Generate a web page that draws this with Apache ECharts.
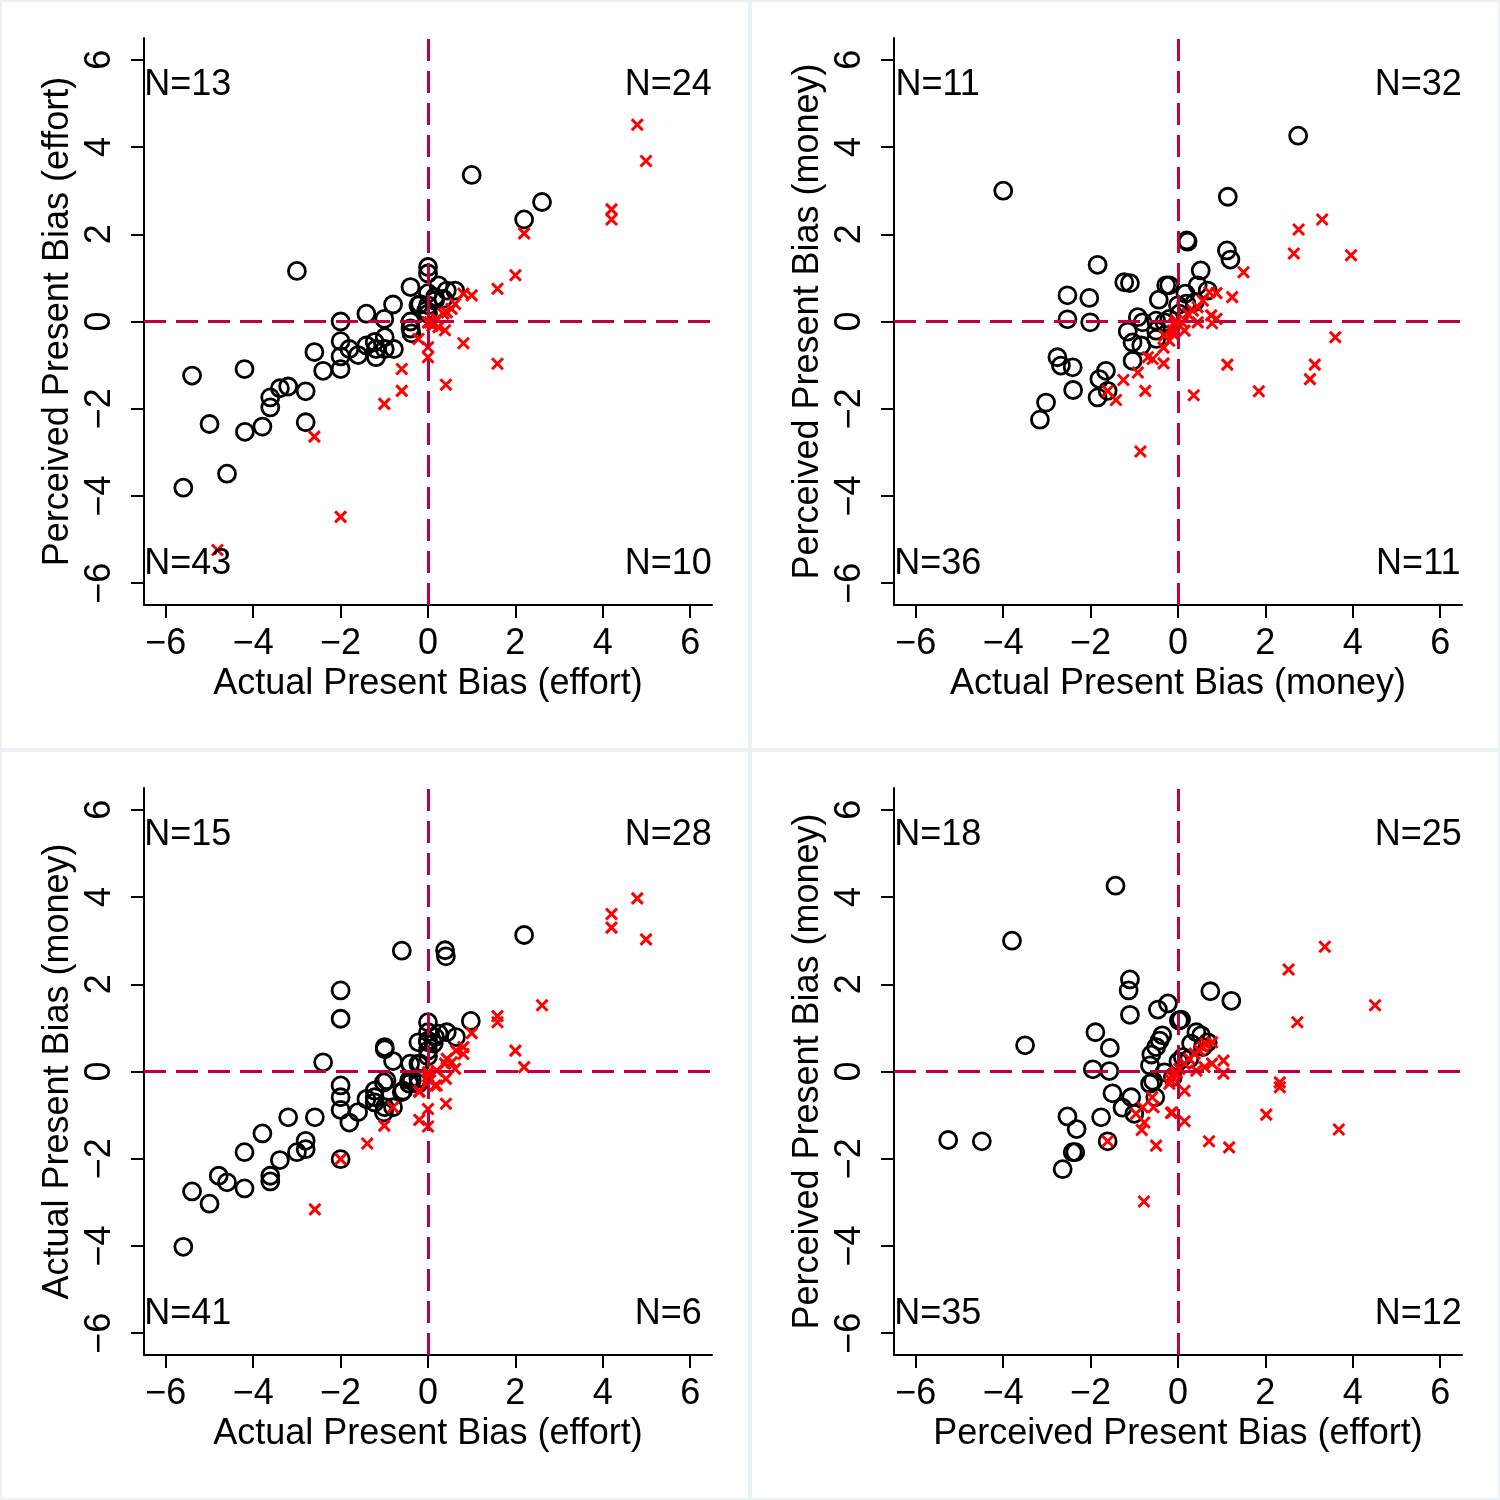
<!DOCTYPE html>
<html>
<head>
<meta charset="utf-8">
<script src="https://cdn.jsdelivr.net/npm/echarts@6/dist/echarts.min.js"></script>
<style>
  html, body { margin: 0; padding: 0; background: #eaf1f4; }
  #main { width: 1500px; height: 1500px; }
</style>
</head>
<body>
<div id="main"></div>
<script>
// tick values shared by every axis
var tickValues = [-6, -4, -2, 0, 2, 4, 6];

// panel 1: actual vs perceived (effort)
var p1Black = [[-3.0,1.16],[-5.4,-1.24],[-4.2,-1.09],[-5.0,-2.35],[-4.19,-2.53],[-3.79,-2.41],[-4.6,-3.49],[-5.6,-3.81],[-3.61,-1.74],[-3.61,-1.97],[-3.39,-1.53],[-3.2,-1.49],[-2.8,-1.6],[-2.8,-2.31],[-2.6,-0.7],[-2.4,-1.13],[-2.0,0.0],[-2.0,-0.45],[-2.0,-0.8],[-2.0,-1.09],[-1.8,-0.63],[-1.6,-0.77],[-1.41,0.18],[-1.41,-0.55],[-1.22,-0.47],[-1.19,-0.63],[-1.19,-0.82],[-0.99,-0.36],[-0.99,-0.63],[-0.78,-0.63],[-1.0,0.06],[-0.8,0.39],[-0.4,0.79],[-0.4,0.0],[-0.4,-0.16],[-0.38,-0.27],[-0.22,0.37],[0,1.25],[0,1.1],[0,0.65],[0,0.37],[0,0.18],[0.16,0.56],[1.0,3.36],[2.61,2.74],[2.2,2.34],[0.24,0.83],[0.43,0.71],[0.62,0.71],[-0.18,0.4],[0.16,0.48],[0.35,0.52],[-0.04,0.25]];
var p1Red = [[-4.82,-5.24],[-2.6,-2.64],[-2.0,-4.48],[-1.0,-1.89],[-0.6,-1.09],[-0.6,-1.59],[-0.22,-0.4],[0,-0.59],[0,-0.82],[0,-0.02],[0.1,-0.1],[4.79,4.51],[4.99,3.68],[4.2,2.57],[4.2,2.34],[2.2,2.02],[2.0,1.06],[1.59,0.75],[1.0,0.6],[0.81,0.64],[0.62,0.4],[0.54,0.29],[0.43,0.21],[0.35,0.18],[0.2,0.06],[0.05,-0.02],[0.24,-0.13],[0.39,-0.2],[0.81,-0.5],[1.59,-0.97],[0.41,-1.45],[0.12,-0.05]];
var p1N = [[-5.5,5.5,'N=13'],[5.5,5.5,'N=24'],[-5.5,-5.5,'N=43'],[5.5,-5.5,'N=10']];

// panel 2: actual vs perceived (money)
var p2Black = [[-4.0,3.0],[-1.84,1.3],[-1.23,0.9],[-1.1,0.88],[-2.53,0.6],[-2.03,0.54],[-2.53,0.05],[-2.01,-0.02],[-0.27,0.83],[-0.44,0.5],[0,0.37],[-0.92,0.1],[-0.81,-0.02],[-1.15,-0.23],[-1.04,-0.48],[-0.84,-0.55],[-1.04,-0.9],[-0.5,0.02],[-0.31,-0.02],[-0.5,-0.21],[-0.5,-0.4],[-0.2,0.06],[-2.76,-0.82],[-2.68,-1.01],[-2.41,-1.05],[-2.4,-1.57],[-1.65,-1.13],[-1.8,-1.32],[-1.84,-1.74],[-1.61,-1.59],[-3.02,-1.86],[-3.16,-2.25],[2.75,4.26],[1.14,2.86],[0.2,1.86],[0.22,1.83],[1.12,1.63],[1.2,1.42],[0.52,1.17],[-0.2,0.83],[0.45,0.83],[0.68,0.71],[0.17,0.64],[0.19,0.41],[0.38,0.44],[0.03,0.18]];
var p2Red = [[-0.86,-2.98],[-0.75,-1.59],[-1.25,-1.34],[-1.42,-1.8],[-1.61,-1.59],[-0.92,-1.17],[-0.69,-0.82],[-0.58,-0.86],[-0.33,-0.96],[-0.33,-0.6],[-0.31,-0.32],[-0.2,-0.44],[-0.12,-0.21],[-0.08,-0.05],[3.3,2.34],[2.76,2.11],[2.65,1.56],[3.96,1.52],[1.5,1.13],[1.24,0.56],[0.72,0.67],[0.88,0.65],[0.57,0.48],[0.45,0.33],[0.34,0.25],[0.22,0.18],[0.76,0.14],[0.88,0.06],[0.78,-0.04],[0.45,-0.02],[0.11,-0.04],[-0.04,0.02],[0.15,-0.21],[-0.12,-0.28],[3.6,-0.36],[3.13,-0.99],[3.02,-1.32],[1.13,-0.99],[1.85,-1.6],[0.36,-1.69]];
var p2N = [[-5.5,5.5,'N=11'],[5.5,5.5,'N=32'],[-5.5,-5.5,'N=36'],[5.5,-5.5,'N=11']];

// panel 3: actual effort vs actual money
var p3Black = [[-0.6,2.77],[-2.0,1.86],[-2.0,1.21],[-2.4,0.21],[-0.99,0.51],[-0.8,0.24],[-0.41,0.18],[-0.22,0.18],[-0.22,0.67],[0,1.13],[0,0.9],[0,0.67],[0,0.48],[0.16,0.79],[-2.0,-0.32],[-2.0,-0.59],[-2.0,-0.88],[-1.8,-1.17],[-1.6,-0.93],[-1.41,-0.63],[-1.22,-0.44],[-1.22,-0.59],[-1.22,-0.71],[-1.01,-0.25],[-1.01,-0.94],[-0.8,-0.82],[-0.6,-0.47],[-0.43,-0.28],[-0.43,-0.2],[-0.22,-0.16],[-0.22,-0.28],[-3.2,-1.05],[-2.59,-1.05],[-3.79,-1.42],[-4.2,-1.85],[-2.8,-1.59],[-2.8,-1.78],[-3.0,-1.85],[-3.39,-2.03],[-3.61,-2.39],[-3.61,-2.52],[-4.79,-2.39],[-4.6,-2.54],[-4.2,-2.68],[-5.4,-2.75],[-5.0,-3.03],[-5.6,-4.02],[-2.0,-2.01],[0.39,2.78],[0.41,2.64],[2.2,3.13],[0.98,1.16],[0.24,0.87],[0.43,0.9],[0.64,0.79],[0,0.71],[0.13,0.64],[-0.99,0.56],[-0.18,0.18],[0,0.35],[-0.37,-0.2],[-0.57,-0.44],[-0.95,-0.2],[-0.99,-0.82]];
var p3Red = [[-2.0,-2.01],[-2.59,-3.16],[-1.39,-1.65],[-1.0,-1.24],[-0.8,-0.82],[-0.2,-0.45],[-0.2,-1.11],[0,-0.86],[0,-1.26],[0,-0.11],[0,-0.18],[0.16,-0.32],[4.79,3.97],[4.2,3.61],[4.2,3.3],[4.99,3.03],[2.61,1.52],[1.59,1.27],[1.59,1.13],[2.0,0.48],[2.2,0.1],[1.0,0.88],[0.81,0.56],[0.81,0.4],[0.64,0.48],[0.62,0.06],[0.54,0.21],[0.43,0.29],[0.39,0.18],[0.2,0.02],[0,-0.02],[0.05,-0.2],[0.2,-0.32],[0.41,-0.17],[0.41,-0.74],[-0.2,-0.47]];
var p3N = [[-5.5,5.5,'N=15'],[5.5,5.5,'N=28'],[-5.5,-5.5,'N=41'],[5.5,-5.5,'N=6']];

// panel 4: perceived effort vs perceived money
var p4Black = [[-1.43,4.26],[-3.8,3.0],[-1.1,2.11],[-1.13,1.86],[-1.1,1.3],[-3.5,0.6],[-0.23,1.56],[-0.46,1.42],[0.02,1.17],[-0.36,0.83],[-0.42,0.71],[-0.5,0.56],[-0.61,0.39],[-1.89,0.9],[-1.56,0.54],[-1.95,0.05],[-1.57,0.01],[-0.64,0.14],[-0.64,-0.28],[-0.57,-0.22],[-0.31,-0.02],[-1.5,-0.5],[-1.07,-0.59],[-1.27,-0.83],[-1.0,-0.97],[-0.52,-0.59],[-1.76,-1.05],[-2.53,-1.03],[-2.32,-1.32],[-2.41,-1.85],[-2.35,-1.85],[-2.64,-2.24],[-1.61,-1.6],[-5.26,-1.57],[-4.49,-1.6],[0.74,1.84],[1.22,1.62],[0.07,1.19],[0.42,0.9],[0.53,0.83],[0.3,0.64],[0.11,0.33],[0.01,0.23],[-0.12,-0.13],[0.26,0.29],[0.57,0.56],[0.68,0.67]];
var p4Red = [[-0.78,-2.98],[-0.5,-1.7],[-0.16,-0.95],[-0.83,-1.34],[-0.77,-1.17],[-0.96,-0.97],[-0.81,-0.82],[-0.56,-0.82],[-0.59,-0.59],[-0.2,-0.28],[-0.12,-0.13],[-0.04,-0.02],[-1.61,-1.6],[3.36,2.86],[2.53,2.34],[4.51,1.52],[2.73,1.13],[1.04,0.25],[1.04,-0.05],[0.78,0.67],[0.63,0.64],[0.57,0.56],[0.49,0.48],[0.38,0.41],[0.26,0.29],[0.15,0.18],[0.03,0.06],[-0.08,-0.05],[-0.16,-0.2],[0.42,0.02],[0.61,0.1],[0.78,0.18],[0.15,-0.44],[0.15,-1.14],[-0.13,-0.94],[0.71,-1.6],[1.17,-1.74],[2.33,-0.25],[2.33,-0.36],[2.02,-0.99],[3.68,-1.33]];
var p4N = [[-5.5,5.5,'N=18'],[5.5,5.5,'N=25'],[-5.5,-5.5,'N=35'],[5.5,-5.5,'N=12']];

var panels = [
  { left: 144, top: 38, xName: 'Actual Present Bias (effort)', yName: 'Perceived Present Bias (effort)', black: p1Black, red: p1Red, n: p1N },
  { left: 894, top: 38, xName: 'Actual Present Bias (money)', yName: 'Perceived Present Bias (money)', black: p2Black, red: p2Red, n: p2N },
  { left: 144, top: 788, xName: 'Actual Present Bias (effort)', yName: 'Actual Present Bias (money)', black: p3Black, red: p3Red, n: p3N },
  { left: 894, top: 788, xName: 'Perceived Present Bias (effort)', yName: 'Perceived Present Bias (money)', black: p4Black, red: p4Red, n: p4N }
];

var font = 'Liberation Sans, Arial, Helvetica, sans-serif';
var refColor = '#c4003c';

function fmt(v) {
  return v < 0 ? '\u2212' + Math.abs(v) : String(v);
}

function axisBase(i, name) {
  return {
    gridIndex: i,
    type: 'value',
    min: -6.5,
    max: 6.5,
    name: name,
    nameLocation: 'middle',
    nameTextStyle: { fontSize: 36, color: '#000', fontFamily: font },
    axisLine: { show: true, onZero: false, lineStyle: { color: '#000', width: 2 } },
    axisTick: { show: true, customValues: tickValues, length: 13, lineStyle: { color: '#000', width: 2 } },
    axisLabel: { customValues: tickValues, formatter: fmt, fontSize: 36, color: '#000', fontFamily: font },
    splitLine: { show: false }
  };
}

var grids = [], xAxes = [], yAxes = [], series = [], rects = [];

panels.forEach(function (p, i) {
  grids.push({ left: p.left, top: p.top, width: 568, height: 567 });

  var xa = axisBase(i, p.xName);
  xa.nameGap = 61;
  xa.axisLabel.margin = 21;
  xAxes.push(xa);

  var ya = axisBase(i, p.yName);
  ya.nameGap = 68;
  ya.axisLabel.margin = 26;
  ya.axisLabel.rotate = 90;
  yAxes.push(ya);

  // dashed reference lines at zero
  series.push({
    type: 'scatter', xAxisIndex: i, yAxisIndex: i, data: [], z: 1,
    markLine: {
      silent: true, symbol: ['none', 'none'], label: { show: false },
      lineStyle: { color: refColor, width: 3, type: [22, 10], opacity: 1 },
      data: [{ xAxis: 0 }, { yAxis: 0 }]
    }
  });
  series.push({
    type: 'scatter', xAxisIndex: i, yAxisIndex: i, data: p.black, z: 2,
    symbol: 'circle', symbolSize: 17,
    itemStyle: { color: 'rgba(0,0,0,0)', borderColor: '#000', borderWidth: 2.8, opacity: 1 }
  });
  series.push({
    type: 'scatter', xAxisIndex: i, yAxisIndex: i, data: p.red, z: 3,
    symbol: 'path://M0,0L10,10M10,0L0,10', symbolSize: 11,
    itemStyle: { color: '#ff0000', borderColor: '#ff0000', borderWidth: 3, opacity: 1 }
  });
  // quadrant counts
  series.push({
    type: 'scatter', xAxisIndex: i, yAxisIndex: i, data: p.n, z: 4,
    symbolSize: 1, itemStyle: { color: 'rgba(0,0,0,0)', opacity: 1 },
    label: {
      show: true, position: 'inside', offset: [0, 3], fontSize: 36, color: '#000', opacity: 1, fontFamily: font,
      formatter: function (d) { return d.value[2]; }
    }
  });

  rects.push({
    type: 'rect', z: -10,
    shape: { x: i % 2 === 0 ? 2 : 752, y: i < 2 ? 2 : 752, width: 746, height: 746 },
    style: { fill: '#fff' }
  });
});

var myChart = echarts.init(document.getElementById('main'));
myChart.setOption({
  animation: false,
  backgroundColor: '#eaf1f4',
  graphic: rects,
  grid: grids,
  xAxis: xAxes,
  yAxis: yAxes,
  series: series
});
</script>
</body>
</html>
